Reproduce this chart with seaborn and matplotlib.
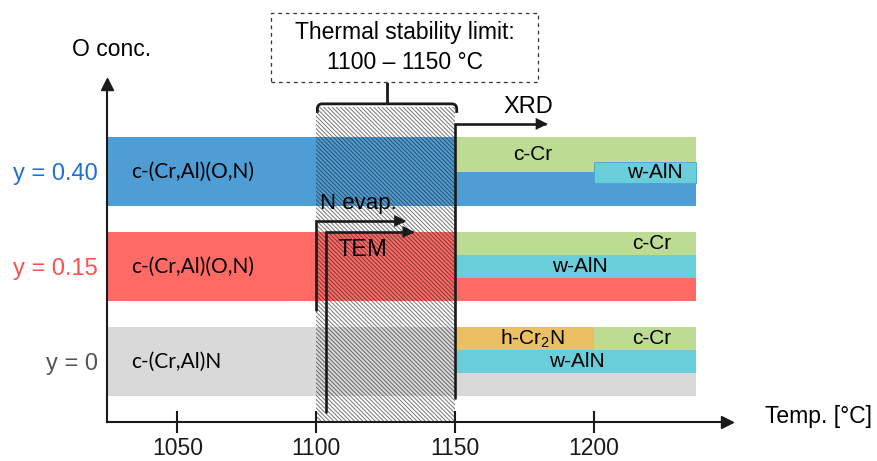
import matplotlib
matplotlib.use("Agg")
import matplotlib.pyplot as plt
from matplotlib.patches import Rectangle, FancyArrowPatch, PathPatch
from matplotlib.path import Path
import seaborn as sns

sns.set_theme(style="white")
plt.rcParams["font.family"] = ["Liberation Sans", "DejaVu Sans"]
plt.rcParams["mathtext.fontset"] = "custom"
plt.rcParams["mathtext.rm"] = "Liberation Sans"
plt.rcParams["hatch.linewidth"] = 0.7
plt.rcParams["text.color"] = "black"

# Coatings, bottom to top, by oxygen content
compositions = ["y = 0", "y = 0.15", "y = 0.40"]
composition_colors = ["#555555", "#ff4f4f", "#1f70d6"]
as_deposited = ["c-(Cr,Al)N", "c-(Cr,Al)(O,N)", "c-(Cr,Al)(O,N)"]
matrix_colors = ["#d9d9d9", "#ff6a64", "#4f9dd5"]

# Temperature axis (degC)
temp_ticks = [1050, 1100, 1150, 1200]
temp_start = 1025
temp_end = 1237
stability_low = 1100
stability_high = 1150

# Decomposition products after annealing above the stability limit
product_rows = [0, 0, 0, 1, 1, 2, 2]
product_names = ["h-Cr$_2$N", "c-Cr", "w-AlN", "c-Cr", "w-AlN", "c-Cr", "w-AlN"]
product_start = [1150, 1200, 1150, 1150, 1150, 1150, 1200]
product_end = [1200, 1237, 1237, 1237, 1237, 1237, 1237]
phase_colors = {"h-Cr$_2$N": "#eac062", "c-Cr": "#bedb94", "w-AlN": "#6acdda"}

# layer placement inside a band (0 = band bottom, 1 = band top) and label x
layer_lo = [2 / 3, 2 / 3, 1 / 3, 2 / 3, 1 / 3, 0.49, 0.33]
layer_hi = [1.0, 1.0, 2 / 3, 1.0, 2 / 3, 1.0, 0.63]
label_temps = [1178, 1221, 1194, 1221, 1195, 1178, 1222]

band_half = 0.363

fig = plt.figure(figsize=(8.77, 4.61), dpi=100)
ax = fig.add_axes([107 / 877, 39 / 461, 620 / 877, 338 / 461])
ax.set_xlim(1024.68, 1248.1)
ax.set_ylim(-0.637, 2.92)

rows = list(range(len(compositions)))

# as-deposited matrix bands
ax.barh(rows, [temp_end - temp_start] * len(rows), left=temp_start,
        height=2 * band_half, color=matrix_colors, linewidth=0, zorder=1)
for r, name in zip(rows, as_deposited):
    ax.text(temp_start + 8.5, r, name, fontsize=15, family="Lato",
            ha="left", va="center", zorder=5)

# decomposition products
for r, name, t0, t1, lo, hi, tx in zip(product_rows, product_names, product_start,
                                       product_end, layer_lo, layer_hi, label_temps):
    y0 = r - band_half + lo * 2 * band_half
    y1 = r - band_half + hi * 2 * band_half
    edge = "#45a6d6" if (r == 2 and name == "w-AlN") else "none"
    ax.barh((y0 + y1) / 2, t1 - t0, left=t0, height=y1 - y0,
            color=phase_colors[name], edgecolor=edge, linewidth=0.6, zorder=2)
    ax.text(tx, (y0 + y1) / 2, name, fontsize=15, ha="center", va="center", zorder=5)

# thermal stability window (hatched)
hatch_top = 2.679
ax.add_patch(Rectangle((stability_low, -0.637), stability_high - stability_low,
                       hatch_top + 0.637, facecolor="none",
                       edgecolor=(0.12, 0.12, 0.12, 0.62), hatch="\\" * 8,
                       linewidth=0, zorder=3, clip_on=False))

# bracket over the window and its annotation box
bt, be, rx, ry = 2.711, 2.616, 1.8, 0.053
bx0, bx1 = stability_low + 0.5, stability_high + 0.7
bracket = Path([(bx0, be), (bx0, bt - ry), (bx0, bt), (bx0 + rx, bt),
                (bx1 - rx, bt), (bx1, bt), (bx1, bt - ry), (bx1, be)],
               [Path.MOVETO, Path.LINETO, Path.CURVE3, Path.CURVE3,
                Path.LINETO, Path.CURVE3, Path.CURVE3, Path.LINETO])
ax.add_patch(PathPatch(bracket, facecolor="none", edgecolor="k", lw=2.0,
                       zorder=4, clip_on=False))
mid = (stability_low + stability_high) / 2
box_bottom, box_top = 2.942, 3.668
ax.plot([mid + 0.6, mid + 0.6], [bt, box_bottom], color="k", lw=2.0,
        clip_on=False, zorder=4, solid_capstyle="butt")
ax.add_patch(Rectangle((1083.8, box_bottom), 1180.0 - 1083.8, box_top - box_bottom,
                       facecolor="white", edgecolor="#333333", lw=0.9,
                       linestyle=(0, (3, 3)), clip_on=False, zorder=4))
ax.text(1131.9, 3.458, "Thermal stability limit:", fontsize=16.5,
        ha="center", va="center", zorder=5)
ax.text(1131.9, 3.15, f"{stability_low} \u2013 {stability_high} \u00b0C", fontsize=16.5,
        ha="center", va="center", zorder=5)


def elbow_arrow(x0, y0, y1, x1):
    path = Path([(x0, y0), (x0, y1), (x1, y1)])
    ax.add_patch(FancyArrowPatch(path=path, arrowstyle="-|>", mutation_scale=14,
                                 color="k", lw=1.9, joinstyle="miter",
                                 clip_on=False, zorder=4))


# characterisation paths
elbow_arrow(stability_high, -0.384, 2.5, 1183.5)
ax.text(1176.4, 2.68, "XRD", fontsize=17, ha="center", va="center", zorder=5)
elbow_arrow(stability_low, 0.542, 1.479, 1132.5)
ax.text(1101.3, 1.66, "N evap.", fontsize=16, ha="left", va="center", zorder=5)
elbow_arrow(1103.6, -0.532, 1.363, 1135.5)
ax.text(1107.6, 1.17, "TEM", fontsize=17, ha="left", va="center", zorder=5)

# axes styling
for side in ["top", "right"]:
    ax.spines[side].set_visible(False)
for side in ["left", "bottom"]:
    ax.spines[side].set_color("k")
    ax.spines[side].set_linewidth(1.5)
    ax.spines[side].set_zorder(6)
ax.set_xticks(temp_ticks)
ax.tick_params(axis="x", bottom=True, direction="inout", length=16, width=1.5,
               color="k", labelsize=16.5, pad=3, labelcolor="k")
ax.set_yticks(rows, compositions)
ax.tick_params(axis="y", left=False, length=0, pad=6.5, labelsize=17)
for lab, c in zip(ax.get_yticklabels(), composition_colors):
    lab.set_color(c)
ax.plot(1, 0, marker=">", color="k", ms=8, transform=ax.transAxes,
        clip_on=False, zorder=7)
ax.plot(0, 1, marker="^", color="k", ms=8, transform=ax.transAxes,
        clip_on=False, zorder=7)
ax.text(1261.8, -0.58, "Temp. [\u00b0C]", fontsize=16.5, ha="left", va="center")
ax.text(1026.5, 3.28, "O conc.", fontsize=16.5, ha="center", va="center")

fig.savefig("out.png", dpi=100)
